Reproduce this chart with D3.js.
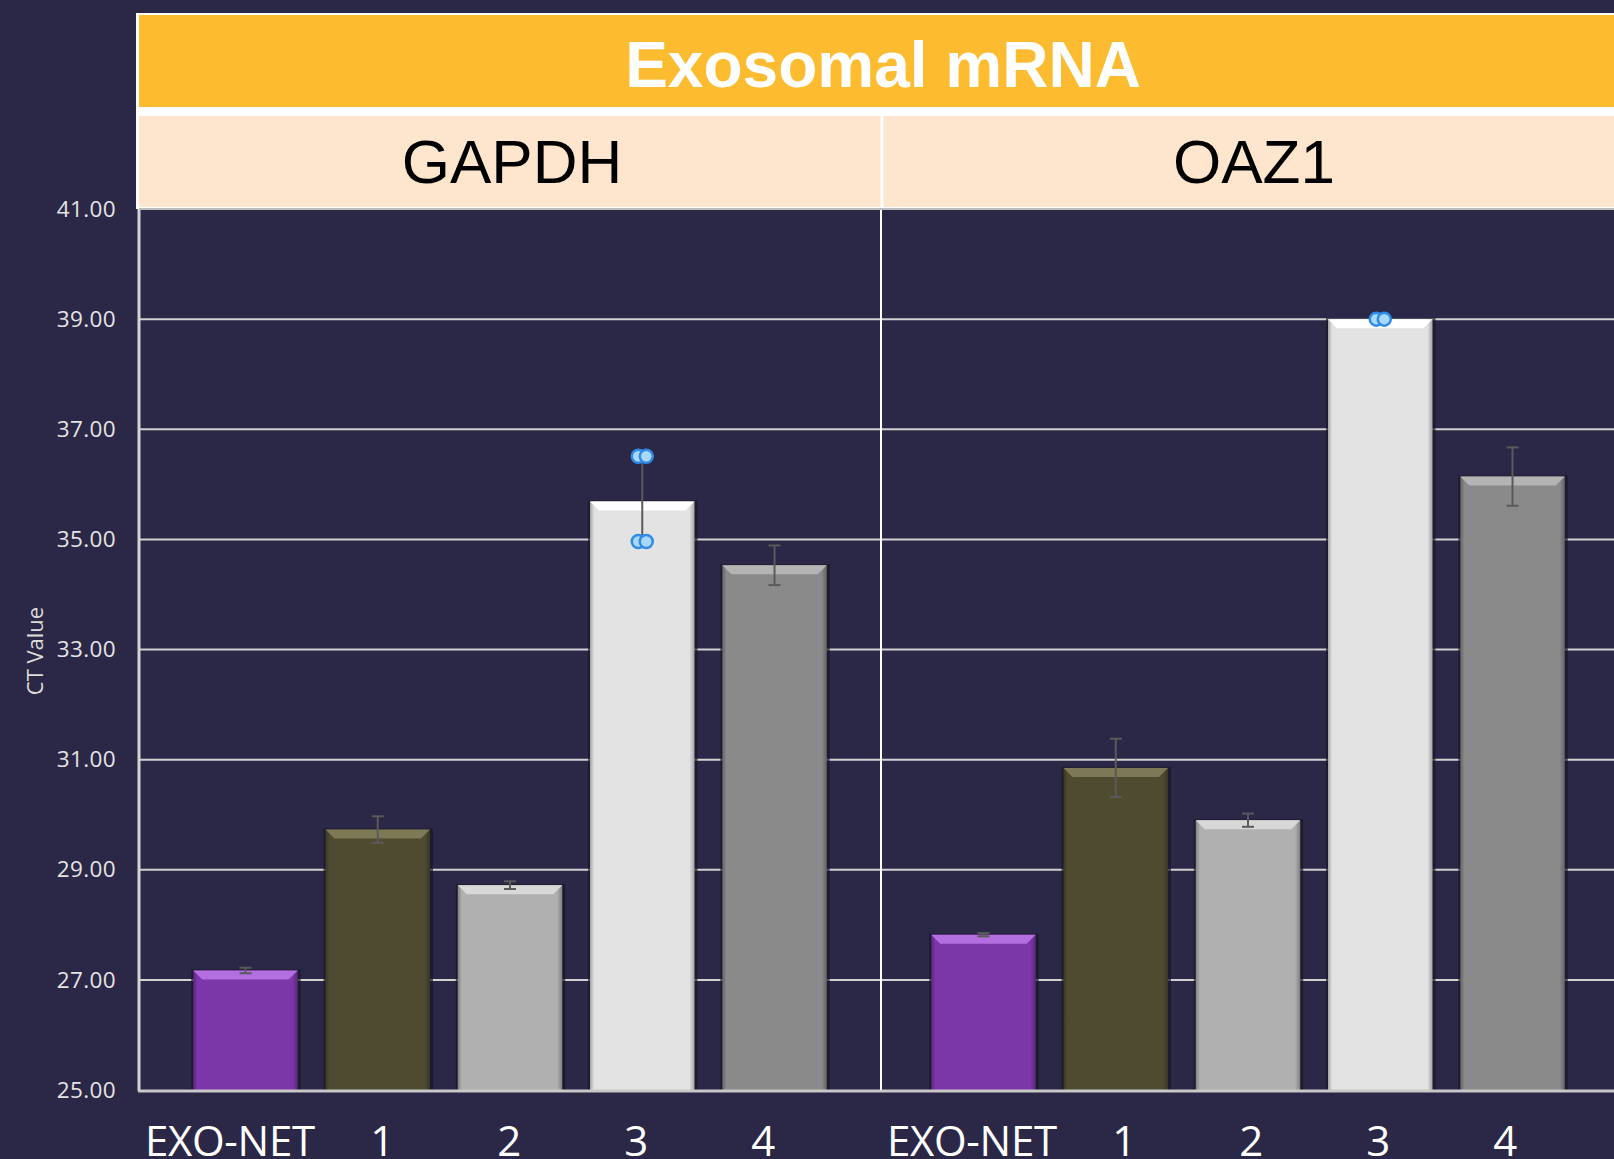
<!DOCTYPE html>
<html>
<head>
<meta charset="utf-8">
<script src="https://cdn.jsdelivr.net/npm/d3@7"></script>
<style>
  html, body { margin: 0; padding: 0; background: #2b2746; }
  svg { display: block; }
</style>
</head>
<body>
<div id="chart"></div>
<script>
// data
const categories = ['EXO-NET', '1', '2', '3', '4'];
const panels = ['GAPDH', 'OAZ1'];
const gapdhValues = [27.17, 29.73, 28.72, 35.69, 34.53];
const gapdhErrors = [0.05, 0.24, 0.07, 0.78, 0.36];
const oaz1Values = [27.82, 30.85, 29.90, 39.00, 36.14];
const oaz1Errors = [0.03, 0.53, 0.12, 0, 0.53];
// blue point markers drawn on bar "3"
const gapdhDots = [36.51, 34.96];
const oaz1Dots = [39.00];
const yTicks = [25, 27, 29, 31, 33, 35, 37, 39, 41];
const title = 'Exosomal mRNA';
const yLabel = 'CT Value';

const barColors = ['#7b37a8', '#4f4b30', '#b0b0b0', '#e3e3e3', '#8a8a8a'];
const bevelColors = ['#b36ee0', '#7d7855', '#d8d8d8', '#ffffff', '#b4b4b4'];

const W = 1614, H = 1159;
const plotLeft = 139, plotTop = 209, plotBottom = 1090;
const panelW = 742;
const dividerX = 881;

const svg = d3.select('#chart').append('svg')
  .attr('width', W).attr('height', H);

svg.append('rect').attr('width', W).attr('height', H).attr('fill', '#2b2746');

const y = d3.scaleLinear().domain([25, 41]).range([plotBottom, plotTop]);

// bar groups: second group sits a little left of the divider line
const panelX = d3.scaleBand().domain(panels)
  .range([plotLeft, plotLeft + 2 * 738]);

const x = d3.scaleBand().domain(categories)
  .range([0, panelW]).paddingInner(0.21).paddingOuter(0.41);

// axis-label text boxes (typed under the chart, not on bar centres)
const labelLeft = {GAPDH: plotLeft, OAZ1: dividerX};
const labelX = d3.scalePoint().domain(categories.slice(1)).range([243, 624]);

// gradients for bars
const defs = svg.append('defs');
barColors.forEach((c, i) => {
  const g = defs.append('linearGradient').attr('id', 'bg' + i)
    .attr('x1', 0).attr('x2', 1).attr('y1', 0).attr('y2', 0);
  const dark = d3.color(c).darker(0.9);
  g.append('stop').attr('offset', '0%').attr('stop-color', dark);
  g.append('stop').attr('offset', '4%').attr('stop-color', c);
  g.append('stop').attr('offset', '95%').attr('stop-color', c);
  g.append('stop').attr('offset', '100%').attr('stop-color', dark);
});

// header boxes
svg.append('rect').attr('x', 136).attr('y', 13).attr('width', W).attr('height', 196)
  .attr('fill', '#ffffff');
svg.append('rect').attr('x', 139).attr('y', 15).attr('width', W).attr('height', 92)
  .attr('fill', '#fdbb30');
svg.append('rect').attr('x', 139).attr('y', 116).attr('width', W).attr('height', 91)
  .attr('fill', '#fde6cd');
svg.append('line')
  .attr('x1', dividerX + 1).attr('x2', dividerX + 1)
  .attr('y1', 116).attr('y2', 207)
  .attr('stroke', '#ffffff').attr('stroke-width', 3);

svg.append('text')
  .attr('x', plotLeft + panelW + 2).attr('y', 87)
  .attr('text-anchor', 'middle')
  .attr('font-family', 'Liberation Sans, Arial, sans-serif')
  .attr('font-weight', 'bold').attr('font-size', 64)
  .attr('fill', '#ffffff')
  .text(title);

svg.selectAll('text.panel').data(panels).enter().append('text')
  .attr('class', 'panel')
  .attr('x', (d, i) => (i === 0 ? plotLeft : dividerX) + panelW / 2 + 2)
  .attr('y', 183)
  .attr('text-anchor', 'middle')
  .attr('font-family', 'Liberation Sans, Arial, sans-serif')
  .attr('font-size', 62)
  .attr('fill', '#000000')
  .text(d => d);

// gridlines
svg.append('g').selectAll('line').data(yTicks.filter(t => t > 25 && t < 41)).enter()
  .append('line')
  .attr('x1', plotLeft).attr('x2', W)
  .attr('y1', d => y(d)).attr('y2', d => y(d))
  .attr('stroke', '#d2d2d2').attr('stroke-width', 2);

// y axis labels
const yAxis = d3.axisLeft(y).tickValues(yTicks).tickFormat(d3.format('.2f')).tickSize(0).tickPadding(23);
const yg = svg.append('g').attr('transform', `translate(${plotLeft},0)`).call(yAxis);
yg.select('.domain').remove();
yg.selectAll('text')
  .attr('font-family', 'Open Sans, sans-serif')
  .attr('font-size', 22.5)
  .attr('letter-spacing', 0.4)
  .attr('fill', '#e4e4e4');

svg.append('text')
  .attr('transform', 'translate(43,651) rotate(-90)')
  .attr('text-anchor', 'middle')
  .attr('font-family', 'Open Sans, sans-serif')
  .attr('font-size', 22)
  .attr('fill', '#dcdcdc')
  .text(yLabel);

// panels
const panelData = [
  {name: 'GAPDH', values: gapdhValues, errors: gapdhErrors, dots: gapdhDots},
  {name: 'OAZ1', values: oaz1Values, errors: oaz1Errors, dots: oaz1Dots}
];

panelData.forEach(p => {
  const g = svg.append('g').attr('transform', `translate(${panelX(p.name)},0)`);
  const rows = categories.map((c, i) => ({cat: c, v: p.values[i], e: p.errors[i], i: i}));

  // shadow
  g.selectAll('rect.shadow').data(rows).enter().append('rect')
    .attr('class', 'shadow')
    .attr('x', d => x(d.cat) - 2)
    .attr('y', d => y(d.v) - 1)
    .attr('width', x.bandwidth() + 5)
    .attr('height', d => plotBottom - y(d.v) + 1)
    .attr('fill', '#1a1728').attr('opacity', 0.7);

  g.selectAll('rect.bar').data(rows).enter().append('rect')
    .attr('class', 'bar')
    .attr('x', d => x(d.cat))
    .attr('y', d => y(d.v))
    .attr('width', x.bandwidth())
    .attr('height', d => plotBottom - y(d.v))
    .attr('fill', d => `url(#bg${d.i})`);

  // top bevel
  g.selectAll('polygon.bevel').data(rows).enter().append('polygon')
    .attr('class', 'bevel')
    .attr('points', d => {
      const x0 = x(d.cat), x1 = x0 + x.bandwidth(), t = y(d.v);
      return `${x0},${t} ${x1},${t} ${x1 - 9},${t + 9} ${x0 + 9},${t + 9}`;
    })
    .attr('fill', d => bevelColors[d.i]);

  // error bars
  const eb = g.selectAll('g.err').data(rows.filter(d => d.e > 0)).enter().append('g')
    .attr('class', 'err')
    .attr('stroke', '#5a5a5a').attr('stroke-width', 2);
  eb.append('line')
    .attr('x1', d => x(d.cat) + x.bandwidth() / 2).attr('x2', d => x(d.cat) + x.bandwidth() / 2)
    .attr('y1', d => y(d.v + d.e)).attr('y2', d => y(d.v - d.e));
  eb.append('line')
    .attr('x1', d => x(d.cat) + x.bandwidth() / 2 - 6).attr('x2', d => x(d.cat) + x.bandwidth() / 2 + 6)
    .attr('y1', d => y(d.v + d.e)).attr('y2', d => y(d.v + d.e));
  eb.append('line')
    .attr('x1', d => x(d.cat) + x.bandwidth() / 2 - 6).attr('x2', d => x(d.cat) + x.bandwidth() / 2 + 6)
    .attr('y1', d => y(d.v - d.e)).attr('y2', d => y(d.v - d.e));

  // blue markers (two overlapping points)
  const cx = x('3') + x.bandwidth() / 2;
  p.dots.forEach(v => {
    [-4, 4].forEach(off => {
      g.append('circle')
        .attr('cx', cx + off).attr('cy', y(v)).attr('r', 6.5)
        .attr('fill', '#a9d8ff').attr('stroke', '#2f8be6').attr('stroke-width', 2.5);
    });
  });
});

// category labels
panels.forEach(name => {
  const lg = svg.append('g')
    .attr('transform', `translate(${labelLeft[name]},0)`)
    .attr('font-family', 'Open Sans, sans-serif')
    .attr('font-size', 42)
    .attr('letter-spacing', -0.3)
    .attr('fill', '#ffffff');
  lg.append('text')
    .attr('x', 6).attr('y', 1156)
    .attr('text-anchor', 'start')
    .text(categories[0]);
  lg.selectAll('text.num').data(categories.slice(1)).enter().append('text')
    .attr('class', 'num')
    .attr('x', d => labelX(d))
    .attr('y', 1156)
    .attr('text-anchor', 'middle')
    .text(d => d);
});

// axis lines and panel divider
svg.append('line')
  .attr('x1', plotLeft).attr('x2', plotLeft).attr('y1', plotTop).attr('y2', plotBottom + 1)
  .attr('stroke', '#d4d4d4').attr('stroke-width', 3);
svg.append('line')
  .attr('x1', plotLeft - 1).attr('x2', W).attr('y1', plotBottom + 1).attr('y2', plotBottom + 1)
  .attr('stroke', '#c8c8c8').attr('stroke-width', 3);
svg.append('line')
  .attr('x1', dividerX).attr('x2', dividerX).attr('y1', plotTop).attr('y2', plotBottom)
  .attr('stroke', '#ffffff').attr('stroke-width', 2);
svg.append('line')
  .attr('x1', plotLeft).attr('x2', W).attr('y1', plotTop).attr('y2', plotTop)
  .attr('stroke', '#bdbdbd').attr('stroke-width', 2);
</script>
</body>
</html>
